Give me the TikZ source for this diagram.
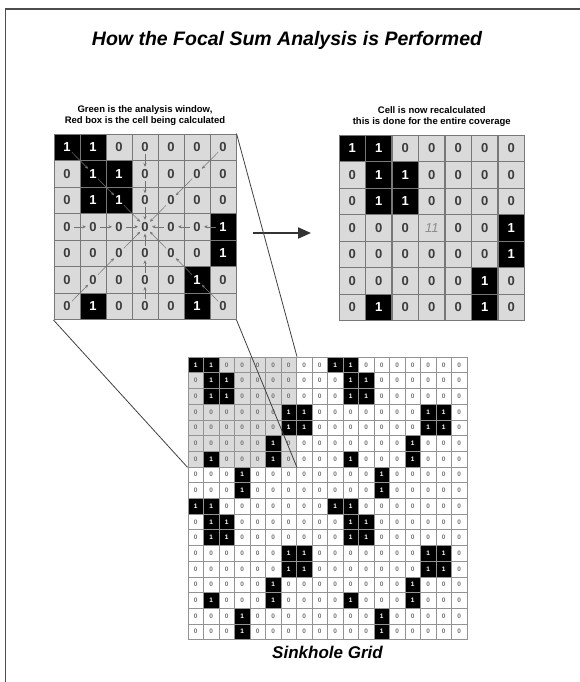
\documentclass[tikz,border=0pt]{standalone}
\usepackage{fontspec}
\setmainfont{Liberation Sans}
\usepackage{xcolor}
\usetikzlibrary{positioning,arrows.meta,fit,calc}
\definecolor{CellGray}{RGB}{218,218,218}
\definecolor{RuleGray}{RGB}{120,120,120}
\definecolor{DigitGray}{RGB}{60,60,60}

% one 9x9 tile of the sinkhole raster
\def\tilerows{{1,1,0,0,0,0,0,0,0},{0,1,1,0,0,0,0,0,0},{0,1,1,0,0,0,0,0,0},{0,0,0,0,0,0,1,1,0},{0,0,0,0,0,0,1,1,0},{0,0,0,0,0,1,0,0,0},{0,1,0,0,0,1,0,0,0},{0,0,0,1,0,0,0,0,0},{0,0,0,1,0,0,0,0,0}}

\begin{document}
\begin{tikzpicture}[
  x=1pt, y=-1pt,
  wincell/.style={draw=RuleGray, line width=0.6pt, minimum width=26pt, minimum height=26.5pt, inner sep=0pt, font=\fontsize{13}{13}\selectfont\bfseries},
  bigcell/.style={draw=RuleGray!80, line width=0.5pt, minimum width=15.5pt, minimum height=15.7pt, inner sep=0pt, font=\fontsize{6.5}{6.5}\selectfont\bfseries},
  flowarrow/.style={-{Stealth[length=3.5pt,width=3pt]}, line width=0.5pt, black!55, shorten <=7pt, shorten >=7pt},
  linkline/.style={line width=0.8pt, black!75},
  bigarrow/.style={-{Triangle[length=13pt,width=11pt]}, line width=2pt, black!80},
  titletext/.style={font=\fontsize{19.5}{23}\selectfont\bfseries\itshape},
  captext/.style={font=\fontsize{9.5}{11.5}\selectfont\bfseries, align=center}
]
\useasboundingbox (0,0) rectangle (580,682);
\draw[line width=1.3pt, black!70] (5.5,682) |- (580,9);

\node[titletext] (title) at (287,40) {How the Focal Sum Analysis is Performed};

% analysis window
\foreach \vals [count=\r] in \tilerows {
  \foreach \v [count=\c] in \vals {
    \ifnum\r<8 \ifnum\c<8
      \ifnum\v=1 \def\cellfill{black}\def\celltext{white}\else\def\cellfill{CellGray}\def\celltext{DigitGray}\fi
      \node[wincell, fill=\cellfill, text=\celltext] (L-\r-\c) at ({54+(\c-0.5)*26},{134+(\r-0.5)*26.5}) {\v};
    \fi\fi
  }
}
\foreach \dr/\dc in {0/1,0/-1,1/0,-1/0,1/1,1/-1,-1/1,-1/-1}
  \foreach \k in {1,2,3} {
    \pgfmathtruncatemacro\rfrom{4+\k*(\dr)}
    \pgfmathtruncatemacro\cfrom{4+\k*(\dc)}
    \pgfmathtruncatemacro\rto{4+(\k-1)*(\dr)}
    \pgfmathtruncatemacro\cto{4+(\k-1)*(\dc)}
    \draw[flowarrow] (L-\rfrom-\cfrom.center) -- (L-\rto-\cto.center);
  }
\node[fit=(L-1-1)(L-7-7), inner sep=0pt] (leftwin) {};
\node[captext, above=4pt of leftwin] (leftcap) {Green is the analysis window,\\Red box is the cell being calculated};

% recalculated window
\foreach \vals [count=\r] in \tilerows {
  \foreach \v [count=\c] in \vals {
    \ifnum\r<8 \ifnum\c<8
      \ifnum\v=1 \def\cellfill{black}\def\celltext{white}\else\def\cellfill{CellGray}\def\celltext{DigitGray}\fi
      \def\cellval{\v}
      \ifnum\r=4 \ifnum\c=4 \def\cellval{\mdseries\itshape 11}\def\celltext{black!45}\fi\fi
      \node[wincell, fill=\cellfill, text=\celltext] (R-\r-\c) at ({339+(\c-0.5)*26.5},{135+(\r-0.5)*26.5}) {\cellval};
    \fi\fi
  }
}
\node[fit=(R-1-1)(R-7-7), inner sep=0pt] (rightwin) {};
\node[captext, above=4pt of rightwin] (rightcap) {Cell is now recalculated\\this is done for the entire coverage};

\coordinate (arrtail) at (253,233);
\coordinate (arrtip) at (311,233);
\draw[bigarrow] (arrtail) -- (arrtip);

% full grid, 2x2 tiles
\foreach \tr in {0,1} {
  \foreach \tc in {0,1} {
    \foreach \vals [count=\r] in \tilerows {
      \foreach \v [count=\c] in \vals {
        \pgfmathtruncatemacro\R{\r+9*\tr}
        \pgfmathtruncatemacro\C{\c+9*\tc}
        \def\cellfill{white}\def\celltext{black!55}
        \ifnum\R<8 \ifnum\C<8 \def\cellfill{CellGray}\fi\fi
        \ifnum\v=1 \def\cellfill{black}\def\celltext{white}\fi
        \node[bigcell, fill=\cellfill, text=\celltext] (B-\R-\C) at ({188+(\C-0.5)*15.5},{357+(\R-0.5)*15.7}) {\v};
      }
    }
  }
}
\node[fit=(B-1-1)(B-7-7), inner sep=0pt] (bigwin) {};
\node[fit=(B-1-1)(B-18-18), inner sep=0pt] (biggrid) {};
\node[titletext, font=\fontsize{17}{20}\selectfont\bfseries\itshape, below=3pt of biggrid] (gridcap) {Sinkhole Grid};

\draw[linkline] (leftwin.north east) -- (bigwin.north east);
\draw[linkline] (leftwin.south east) -- (bigwin.south east);
\draw[linkline] (leftwin.south west) -- (bigwin.south west);
\end{tikzpicture}
\end{document}
